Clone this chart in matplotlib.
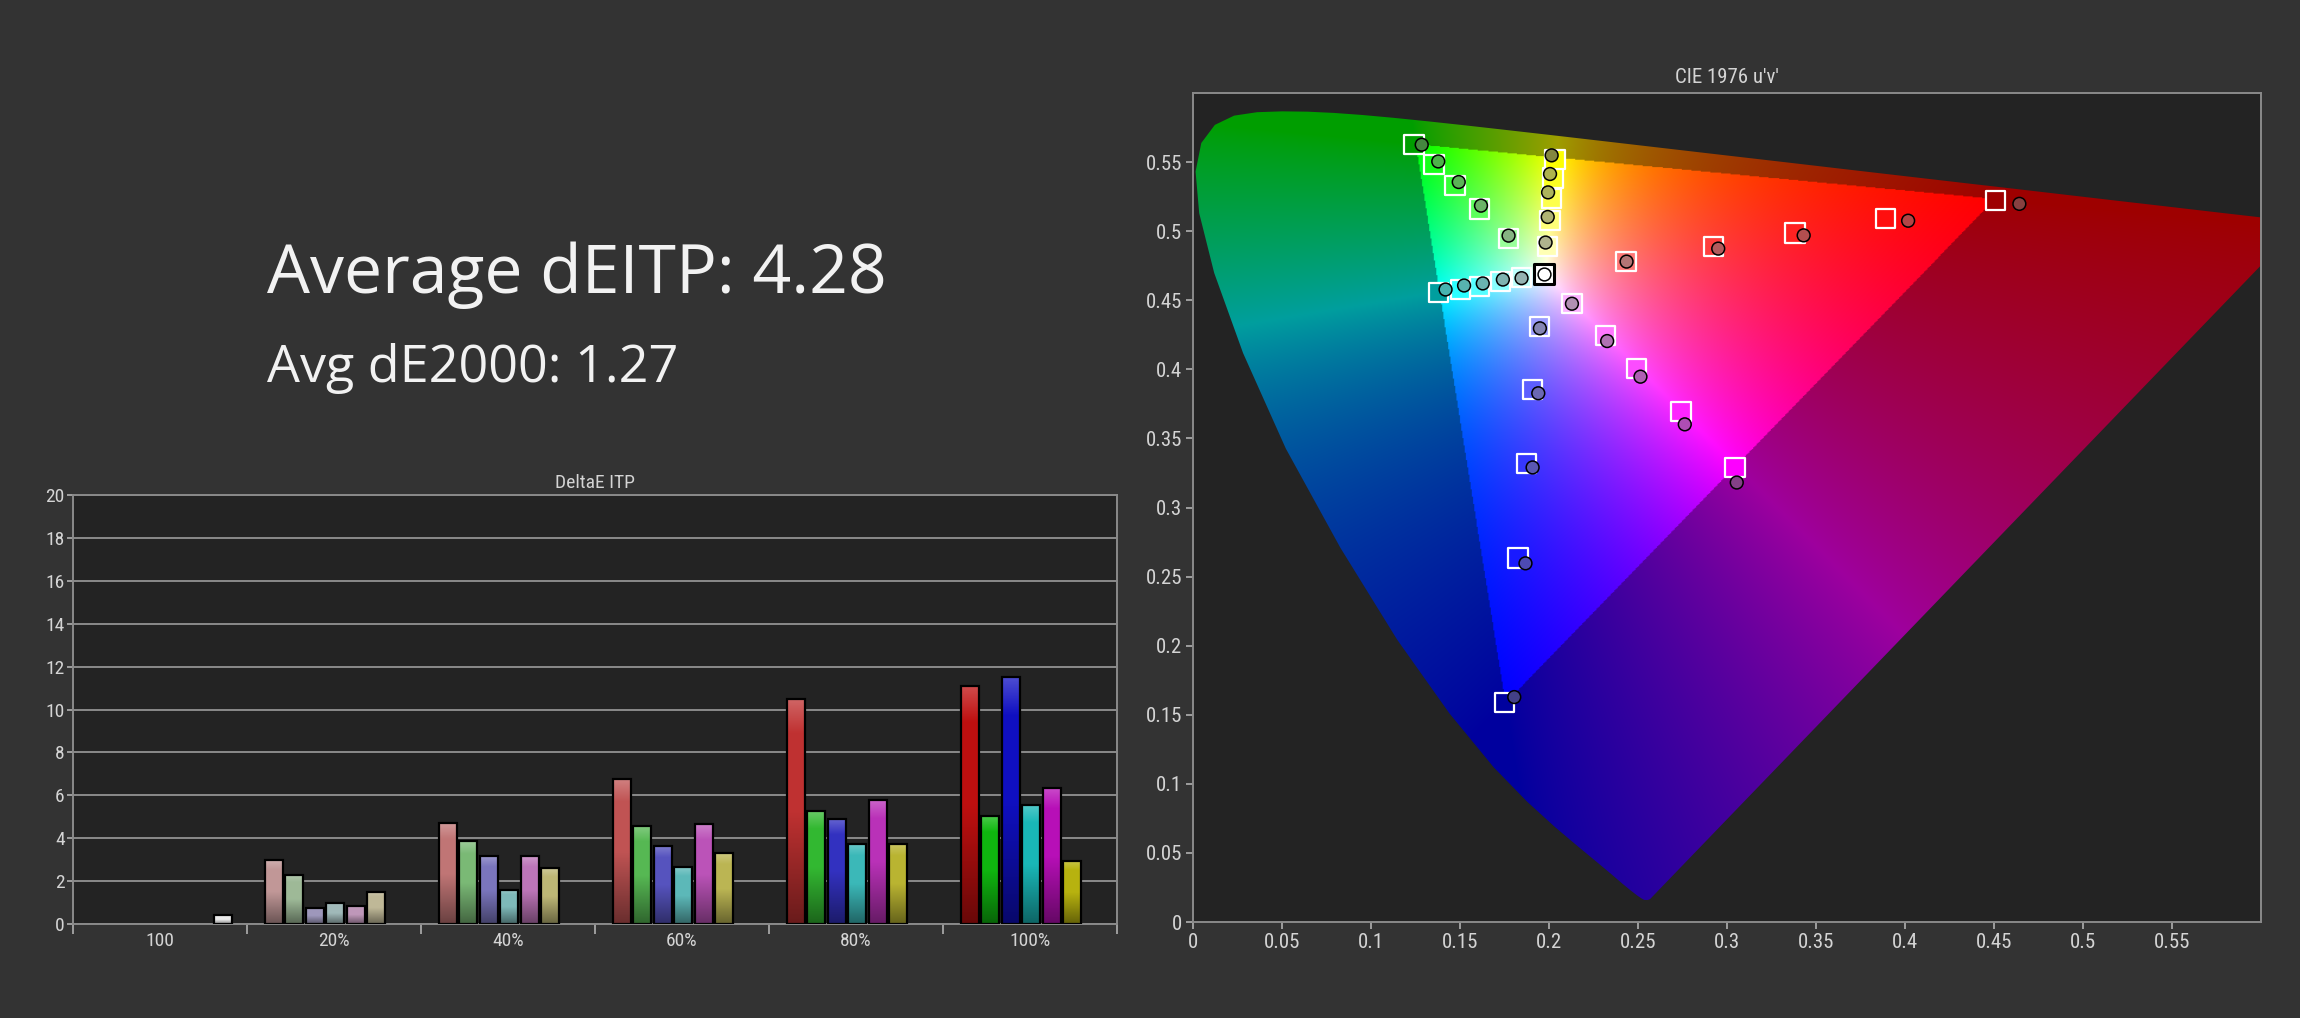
import numpy as np
import matplotlib.pyplot as plt
from matplotlib.patches import Polygon, Rectangle

# ---- DeltaE ITP bar chart data ----
groups = ['100', '20%', '40%', '60%', '80%', '100%']
white_itp = 0.4
red_itp = [3.0, 4.7, 6.75, 10.5, 11.1]
green_itp = [2.3, 3.85, 4.55, 5.25, 5.05]
blue_itp = [0.75, 3.15, 3.65, 4.9, 11.5]
cyan_itp = [1.0, 1.6, 2.65, 3.75, 5.55]
magenta_itp = [0.85, 3.15, 4.65, 5.8, 6.35]
yellow_itp = [1.5, 2.6, 3.3, 3.75, 2.95]
saturations = [0.2, 0.4, 0.6, 0.8, 1.0]

# ---- CIE 1931 spectral locus (x, y), 380..700 nm ----
locus_x = [0.1741, 0.1740, 0.1738, 0.1736, 0.1733, 0.1730, 0.1726, 0.1721, 0.1714, 0.1703,
           0.1689, 0.1669, 0.1644, 0.1611, 0.1566, 0.1510, 0.1440, 0.1355, 0.1241, 0.1096,
           0.0913, 0.0687, 0.0454, 0.0235, 0.0082, 0.0039, 0.0139, 0.0389, 0.0743, 0.1142,
           0.1547, 0.1929, 0.2296, 0.2658, 0.3016, 0.3373, 0.3731, 0.4087, 0.4441, 0.4788,
           0.5125, 0.5448, 0.5752, 0.6029, 0.6270, 0.6482, 0.6658, 0.6801, 0.6915, 0.7006,
           0.7079, 0.7140, 0.7190, 0.7230, 0.7260, 0.7283, 0.7300, 0.7311, 0.7320, 0.7334, 0.7347]
locus_y = [0.0050, 0.0050, 0.0049, 0.0049, 0.0048, 0.0048, 0.0048, 0.0048, 0.0051, 0.0058,
           0.0069, 0.0086, 0.0109, 0.0138, 0.0177, 0.0227, 0.0297, 0.0399, 0.0578, 0.0868,
           0.1327, 0.2007, 0.2950, 0.4127, 0.5384, 0.6548, 0.7502, 0.8120, 0.8338, 0.8262,
           0.8059, 0.7816, 0.7543, 0.7243, 0.6923, 0.6589, 0.6245, 0.5896, 0.5547, 0.5202,
           0.4866, 0.4544, 0.4242, 0.3965, 0.3725, 0.3514, 0.3340, 0.3197, 0.3083, 0.2993,
           0.2920, 0.2859, 0.2809, 0.2770, 0.2740, 0.2717, 0.2700, 0.2689, 0.2680, 0.2666, 0.2653]

# ---- saturation sweep targets / measurements (u', v'), 20..100% ----
series = ['red', 'green', 'blue', 'cyan', 'magenta', 'yellow']
target_u = [[0.2433, 0.2923, 0.3382, 0.3893, 0.4510],
            [0.1773, 0.1609, 0.1472, 0.1354, 0.1242],
            [0.1949, 0.1908, 0.1876, 0.1826, 0.1751],
            [0.1846, 0.1730, 0.1609, 0.1503, 0.1378],
            [0.2129, 0.2318, 0.2492, 0.2742, 0.3045],
            [0.1993, 0.2006, 0.2014, 0.2023, 0.2034]]
target_v = [[0.4783, 0.4891, 0.4987, 0.5089, 0.5223],
            [0.4947, 0.5161, 0.5332, 0.5480, 0.5626],
            [0.4313, 0.3856, 0.3321, 0.2635, 0.1587],
            [0.4662, 0.4633, 0.4602, 0.4578, 0.4554],
            [0.4475, 0.4246, 0.4005, 0.3692, 0.3290],
            [0.4891, 0.5077, 0.5235, 0.5385, 0.5522]]
meas_u = [[0.2436, 0.2951, 0.3431, 0.4018, 0.4643],
          [0.1773, 0.1618, 0.1493, 0.1378, 0.1285],
          [0.1949, 0.1940, 0.1908, 0.1868, 0.1805],
          [0.1846, 0.1741, 0.1628, 0.1523, 0.1419],
          [0.2129, 0.2327, 0.2514, 0.2763, 0.3055],
          [0.1981, 0.1993, 0.1995, 0.2006, 0.2015]]
meas_v = [[0.4780, 0.4874, 0.4970, 0.5076, 0.5198],
          [0.4968, 0.5185, 0.5356, 0.5505, 0.5626],
          [0.4297, 0.3827, 0.3290, 0.2596, 0.1628],
          [0.4660, 0.4650, 0.4622, 0.4607, 0.4578],
          [0.4475, 0.4205, 0.3947, 0.3602, 0.3181],
          [0.4918, 0.5103, 0.5281, 0.5414, 0.5549]]
white_target = [0.1970, 0.4687]
white_meas = [0.1970, 0.4687]

FIG_BG = '#333333'
AX_BG = '#232323'
TXT = '#d4d4d4'
LINE = '#8a8a8a'
TICK_FONT = dict(family=['Roboto Condensed', 'DejaVu Sans'], stretch='condensed')

pure = {'red': (0.75, 0.06, 0.06), 'green': (0.06, 0.72, 0.06), 'blue': (0.06, 0.06, 0.76),
        'cyan': (0.10, 0.72, 0.72), 'magenta': (0.72, 0.06, 0.72), 'yellow': (0.72, 0.70, 0.06)}


def uv_to_rgb(u, v):
    u = np.asarray(u, float)
    v = np.asarray(v, float)
    with np.errstate(divide='ignore', invalid='ignore'):
        d = 6 * u - 16 * v + 12
        x = 9 * u / d
        y = 4 * v / d
        X = x / y
        Z = (1 - x - y) / y
        r = 3.2406 * X - 1.5372 - 0.4986 * Z
        g = -0.9689 * X + 1.8758 + 0.0415 * Z
        b = 0.0557 * X - 0.2040 + 1.0570 * Z
        rgb = np.stack([r, g, b], -1)
        inside = (rgb >= -1e-6).all(-1)
        rgb = np.clip(rgb, 0, None)
        rgb = rgb / np.maximum(rgb.max(-1, keepdims=True), 1e-9)
        rgb = np.nan_to_num(rgb)
    out = np.where(inside[..., None], rgb, (rgb ** 0.8) * 0.62)
    return np.clip(out, 0, 1)


def xy_to_uv(x, y):
    x = np.asarray(x)
    y = np.asarray(y)
    d = -2 * x + 12 * y + 3
    return 4 * x / d, 9 * y / d


def style_labels(labels):
    for lab in labels:
        lab.set_family(TICK_FONT['family'])
        lab.set_stretch(TICK_FONT['stretch'])


fig = plt.figure(figsize=(23, 10.18), dpi=100, facecolor=FIG_BG)

# ---- headline text ----
fig.text(0.116, 0.712, 'Average dEITP: 4.28', color='#f2f2f2', fontsize=49,
         family=['Open Sans', 'DejaVu Sans'], va='baseline')
fig.text(0.116, 0.625, 'Avg dE2000: 1.27', color='#f2f2f2', fontsize=37.5,
         family=['Open Sans', 'DejaVu Sans'], va='baseline')

# ---- DeltaE ITP bars ----
ax = fig.add_axes([0.0317, 0.0923, 0.4539, 0.4214], facecolor=AX_BG)


def gradient_bar(ax, x0, w, h, base):
    t = np.linspace(0, 1, 80)[:, None]
    m = 0.55 + 0.45 * np.clip(t / 0.5, 0, 1)
    hi = 0.25 * np.clip((t - 0.85) / 0.15, 0, 1)
    col = np.array(base)[None, None, :] * m[..., None]
    col = col * (1 - hi[..., None]) + hi[..., None]
    ax.imshow(np.clip(col, 0, 1), extent=[x0, x0 + w, 0, h], origin='lower',
              aspect='auto', interpolation='bilinear', zorder=3)
    ax.add_patch(Rectangle((x0, 0), w, h, facecolor='none', edgecolor='black',
                           lw=1.6, zorder=4))


bar_w = 0.105
slot0 = 0.154
pitch = 0.118
all_itp = [red_itp, green_itp, blue_itp, cyan_itp, magenta_itp, yellow_itp]
gradient_bar(ax, 0 + slot0 + 6 * pitch - bar_w / 2, bar_w, white_itp, (0.92, 0.92, 0.92))
gray = np.array([0.76, 0.73, 0.73])
for k, name in enumerate(series):
    for g, s in enumerate(saturations):
        base = np.array(pure[name]) * s + gray * (1 - s)
        gradient_bar(ax, g + 1 + slot0 + k * pitch - bar_w / 2, bar_w, all_itp[k][g], base)

ax.set_xlim(0, 6)
ax.set_ylim(0, 20)
ax.set_yticks(np.arange(0, 21, 2))
ax.grid(axis='y', color=LINE, lw=1.4, zorder=1)
ax.set_axisbelow(True)
ax.set_xticks(np.arange(0, 7))
ax.set_xticklabels([])
ax.set_xticks(np.arange(6) + 0.5, minor=True)
ax.set_xticklabels(groups, minor=True)
ax.tick_params(axis='x', which='major', length=7, width=1.2, color='#b0b0b0', direction='out')
ax.tick_params(axis='x', which='minor', length=0, pad=6, labelsize=14, labelcolor=TXT)
ax.tick_params(axis='y', length=4, width=1.2, color='#b0b0b0', labelsize=14, labelcolor=TXT, pad=2)
style_labels(ax.get_xticklabels(minor=True) + ax.get_yticklabels())
for sp in ax.spines.values():
    sp.set_color(LINE)
    sp.set_linewidth(1.4)
ax.set_title('DeltaE ITP', color=TXT, fontsize=14, pad=5, **TICK_FONT)

# ---- CIE 1976 u'v' ----
cx = fig.add_axes([0.5187, 0.0943, 0.4643, 0.8143], facecolor=AX_BG)
lu, lv = xy_to_uv(locus_x, locus_y)
uu, vv = np.meshgrid(np.linspace(0, 0.6, 900), np.linspace(0.004, 0.6, 900))
bg = uv_to_rgb(uu, vv)
im = cx.imshow(bg, extent=[0, 0.6, 0.004, 0.6], origin='lower', aspect='auto',
               interpolation='bilinear', zorder=1)
horseshoe = Polygon(np.column_stack([lu, lv]), closed=True, facecolor='none',
                    edgecolor='none', transform=cx.transData)
cx.add_patch(horseshoe)
im.set_clip_path(horseshoe)

for k in range(len(series)):
    tu = np.array(target_u[k])
    tv = np.array(target_v[k])
    mu = np.array(meas_u[k])
    mv = np.array(meas_v[k])
    tcol = uv_to_rgb(tu, tv)
    mcol = uv_to_rgb(mu, mv) * 0.45 + 0.25
    cx.scatter(tu, tv, s=190, marker='s', c=tcol, edgecolors='white', linewidths=1.6, zorder=3)
    cx.scatter(mu, mv, s=85, marker='o', c=mcol, edgecolors='black', linewidths=1.1, zorder=4)
cx.scatter([white_target[0]], [white_target[1]], s=190, marker='s', c='white',
           edgecolors='black', linewidths=2.2, zorder=3)
cx.scatter([white_meas[0]], [white_meas[1]], s=85, marker='o', c='white',
           edgecolors='black', linewidths=1.1, zorder=4)

cx.set_xlim(0, 0.6)
cx.set_ylim(0, 0.6)
ticks = np.round(np.arange(0, 0.56, 0.05), 2)
tick_labels = ['0' if t == 0 else ('%g' % t) for t in ticks]
cx.set_xticks(ticks)
cx.set_xticklabels(tick_labels)
cx.set_yticks(ticks)
cx.set_yticklabels(tick_labels)
cx.tick_params(length=5, width=1.2, color='#b0b0b0', labelsize=15, labelcolor=TXT, pad=3)
style_labels(cx.get_xticklabels() + cx.get_yticklabels())
for sp in cx.spines.values():
    sp.set_color(LINE)
    sp.set_linewidth(1.4)
cx.set_title("CIE 1976 u'v'", color=TXT, fontsize=15, pad=7, **TICK_FONT)

fig.savefig('out.png', dpi=100, facecolor=FIG_BG)
